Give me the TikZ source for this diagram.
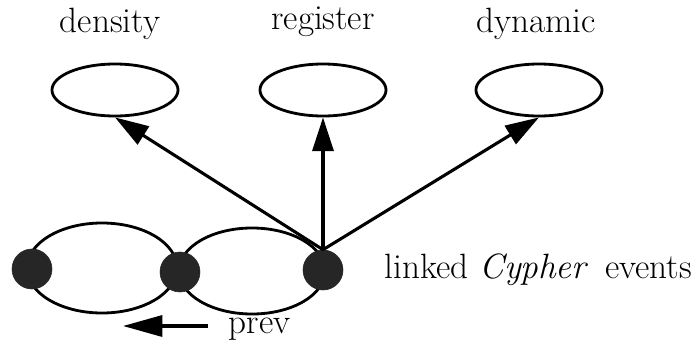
\documentclass[tikz,border=0pt]{standalone}
\usetikzlibrary{arrows.meta,shapes.geometric,positioning}

\begin{document}
\begin{tikzpicture}[x=0.025cm,y=-0.025cm,
    attr/.style={draw, ellipse, line width=2pt, minimum width=3.15cm, minimum height=1.3cm},
    evloop/.style={draw, ellipse, line width=2pt},
    event/.style={circle, fill=black!85, draw=black!85, minimum size=1cm, inner sep=0pt},
    link/.style={line width=2.2pt, -{Triangle[length=24pt, width=15pt]}},
    lbl/.style={font=\fontsize{25}{30}\selectfont}]
        \useasboundingbox (0,0) rectangle (699,363);

        % attribute slots
        \node[attr] (dens) at (115,90) {};
        \node[attr] (reg) at (323,90) {};
        \node[attr] (dyn) at (539,90) {};
        \node[lbl] (densl) at (110,24) {density};
        \node[lbl] (regl) at (323,22) {register};
        \node[lbl] (dynl) at (536,24) {dynamic};

        % chain of events
        \node[evloop, minimum width=3.75cm, minimum height=2.25cm] (loopA) at (102,268) {};
        \node[evloop, minimum width=3.65cm, minimum height=2.15cm] (loopB) at (252,271) {};
        \node[event] (ev1) at (32,269) {};
        \node[event] (ev2) at (180,272) {};
        \node[event] (ev3) at (323,270) {};
        \node[lbl, anchor=west] (cyph) at (380,270) {linked \textit{Cypher}\, events};

        % previous pointer
        \node[lbl, anchor=west] (prev) at (224,329) {prev};
        \coordinate (prevtip) at (123,326);

        % links to attributes
        \draw[link] (ev3.north) -- (dens.south);
        \draw[link] (ev3.north) -- (reg.south);
        \draw[link] (ev3.north) -- (dyn.south);
        \draw[link, -{Triangle[length=28pt, width=15pt]}, shorten <=0.4cm]
            (prev.west |- prevtip) -- (prevtip);
\end{tikzpicture}
\end{document}
